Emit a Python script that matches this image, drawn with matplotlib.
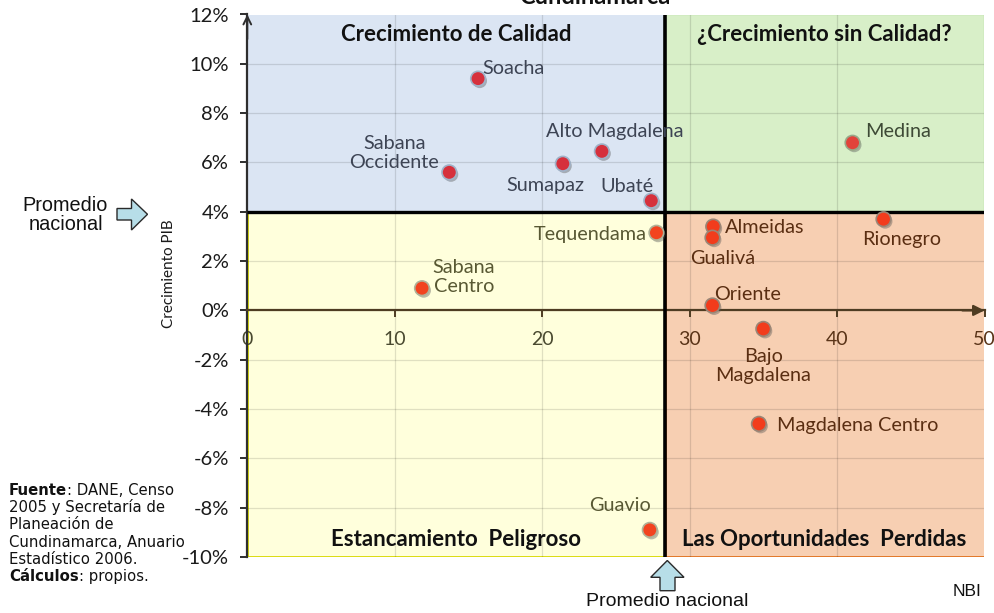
import matplotlib
matplotlib.use("Agg")
import matplotlib.pyplot as plt
from matplotlib.patches import Rectangle, Polygon
import matplotlib.patheffects as pe

# Provinces of Cundinamarca: unmet basic needs (NBI, %) vs. GDP growth (%)
regiones = ["Soacha", "Sabana\nOccidente", "Sumapaz", "Alto Magdalena", "Ubaté",
            "Tequendama", "Medina", "Almeidas", "Gualivá", "Rionegro", "Oriente",
            "Bajo\nMagdalena", "Magdalena Centro", "Guavio", "Sabana\nCentro"]
nbi = [15.65, 13.7, 21.4, 24.05, 27.4, 27.75, 41.05, 31.6, 31.55, 43.15, 31.55,
       35.0, 34.7, 27.3, 11.85]
pib = [9.4, 5.6, 5.95, 6.45, 4.45, 3.15, 6.8, 3.4, 2.95, 3.7, 0.2, -0.75, -4.6,
       -8.9, 0.9]

# National averages that split the four quadrants
nbi_nacional = 28.3
pib_nacional = 4.0

x_ticks = [0, 10, 20, 30, 40, 50]
y_ticks = list(range(-10, 13, 2))

cuadrantes = ["Crecimiento de Calidad", "¿Crecimiento sin Calidad?",
              "Estancamiento  Peligroso", "Las Oportunidades  Perdidas"]

# label placement for each province: offset in pixels, horizontal alignment
etiquetas = [(4, 10, "left"), (-55, 19, "center"), (-17, -22, "center"),
             (13, 20, "center"), (-24, 14, "center"), (-10, -2, "right"),
             (13, 11, "left"), (12, -1, "left"), (10, -21, "center"),
             (18, -20, "center"), (2, 11, "left"), (0, -37, "center"),
             (18, -2, "left"), (-30, 24, "center"), (42, 11, "center")]

CAL = ["Lato", "DejaVu Sans"]
ARIAL = ["Liberation Sans", "DejaVu Sans"]
PX = 72 / 100.0  # points per pixel at 100 dpi

W, H = 995, 613
fig = plt.figure(figsize=(W / 100, H / 100), dpi=100)
ax = fig.add_axes([247.3 / W, 1 - 557 / H, (984.5 - 247.3) / W, (557 - 14.5) / H])
ax.set_xlim(0, 50)
ax.set_ylim(-10, 12)
ax.patch.set_visible(False)


def fpx(x, y):
    """pixel position (from top-left) to figure fraction"""
    return (x / W, 1 - y / H)


# quadrant backgrounds
quad_style = {
    "azul": dict(fc="#dbe5f3", ec="#4f81bd", lw=1.2),
    "verde": dict(fc="#d8efc8", ec="#3aa83a", lw=1.5),
    "amarillo": dict(fc="#ffffdc", ec="#d8d800", lw=2.0),
    "naranja": dict(fc="#f7cfb2", ec="#e0701c", lw=2.0),
}
ax.add_patch(Rectangle((0, pib_nacional), nbi_nacional, 12 - pib_nacional,
                       zorder=0.5, **quad_style["azul"]))
ax.add_patch(Rectangle((nbi_nacional, pib_nacional), 50 - nbi_nacional, 12 - pib_nacional,
                       zorder=0.5, **quad_style["verde"]))
ax.add_patch(Rectangle((0, -10), nbi_nacional, pib_nacional + 10,
                       zorder=0.5, **quad_style["amarillo"]))
ax.add_patch(Rectangle((nbi_nacional, -10), 50 - nbi_nacional, pib_nacional + 10,
                       zorder=0.5, **quad_style["naranja"]))

# grid
for xv in x_ticks[1:-1]:
    ax.plot([xv, xv], [-10, 12], color="black", alpha=0.12, lw=0.9, zorder=1)
for yv in y_ticks[1:-1]:
    ax.plot([0, 50], [yv, yv], color="black", alpha=0.12, lw=0.9, zorder=1)

# national average dividers
ax.plot([nbi_nacional, nbi_nacional], [-10, 12], color="black", lw=2.6, zorder=4,
        solid_capstyle="butt")
ax.plot([0, 50], [pib_nacional, pib_nacional], color="black", lw=2.4, zorder=4,
        solid_capstyle="butt")

# axes through the origin
for s in ("top", "right"):
    ax.spines[s].set_visible(False)
ax.spines["left"].set_position(("data", 0))
ax.spines["bottom"].set_position(("data", 0))
ax.spines["left"].set_color("#2e2e2e")
ax.spines["bottom"].set_color("#4e3c22")
ax.spines["left"].set_linewidth(1.6)
ax.spines["bottom"].set_linewidth(1.6)
ax.spines["left"].set_zorder(3)
ax.spines["bottom"].set_zorder(3)

ax.set_xticks(x_ticks)
ax.set_xticklabels([str(v) for v in x_ticks])
ax.set_yticks(y_ticks)
ax.set_yticklabels([f"{v}%" for v in y_ticks])
ax.tick_params(axis="x", direction="out", length=5, width=1.4, color="#4e3c22",
               pad=10, labelsize=14)
ax.tick_params(axis="y", direction="out", length=5, width=1.4, color="#2e2e2e",
               pad=8, labelsize=14.5)
for lab in ax.get_xticklabels():
    lab.set_family(CAL)
for lab, v in zip(ax.get_xticklabels(), x_ticks):
    lab.set_color("#5a3418" if v > nbi_nacional else "#4a4a30")
for lab in ax.get_yticklabels():
    lab.set_family(CAL)
    lab.set_color("#1a1a1a")

ax.annotate("", xy=(50, 0), xytext=(48.5, 0), annotation_clip=False,
            arrowprops=dict(arrowstyle="-|>", color="#4e3c22", lw=1.6,
                            mutation_scale=16, shrinkA=0, shrinkB=0), zorder=3)
ax.annotate("", xy=(0, 12), xytext=(0, 11), annotation_clip=False,
            arrowprops=dict(arrowstyle="->", color="#2e2e2e", lw=1.4,
                            mutation_scale=14, shrinkA=0, shrinkB=0), zorder=3)

ax.set_ylabel("Crecimiento PIB", family=CAL, fontsize=11, color="#1a1a1a")
ax.yaxis.set_label_coords((176 - 247.3) / (984.5 - 247.3), (557 - 274) / (557 - 14.5))

# quadrant titles
qx = [nbi_nacional / 2, (nbi_nacional + 50) / 2]
for txt, x, y in zip(cuadrantes, [qx[0], qx[1], qx[0], qx[1]], [11.2, 11.2, -9.3, -9.3]):
    ax.text(x, y, txt, ha="center", va="center", family=CAL, fontweight="bold",
            fontsize=16, color="#111111", zorder=6)


def quad_of(x, y):
    if y >= pib_nacional:
        return "azul" if x < nbi_nacional else "verde"
    return "amarillo" if x < nbi_nacional else "naranja"


marker_face = {"azul": "#d6303c", "verde": "#e2433a", "amarillo": "#f2431f",
               "naranja": "#f23c1c"}
marker_edge = {"azul": "#9fb2c8", "verde": "#98a888", "amarillo": "#b0b298",
               "naranja": "#9a8676"}
text_color = {"azul": "#3d4454", "verde": "#3e4a36", "amarillo": "#585833",
              "naranja": "#5a2e12"}

for name, x, y, (dx, dy, ha) in zip(regiones, nbi, pib, etiquetas):
    q = quad_of(x, y)
    ax.plot([x], [y], marker="o", ms=10.5, mfc=marker_face[q], mec=marker_edge[q],
            mew=1.2, ls="none", zorder=7,
            path_effects=[pe.SimplePatchShadow(offset=(1.2, -1.6), shadow_rgbFace="#555555",
                                               alpha=0.4), pe.Normal()])
    ax.annotate(name, xy=(x, y), xytext=(dx * PX, dy * PX), textcoords="offset points",
                ha=ha, va="center", family=CAL, fontsize=14.3, color=text_color[q],
                multialignment="center", linespacing=1.15, zorder=8,
                annotation_clip=False)

# chart title, mostly above the canvas
fig.text(*fpx(595, 3.5), "Cundinamarca", ha="center", va="baseline", family=CAL,
         fontweight="bold", fontsize=17, color="#111111")

# block arrows marking the national averages
arrow_kw = dict(fc="#b7dee8", ec="#2a2a2a", lw=1.0, transform=fig.transFigure)
left_arrow = [(117, 208.5), (131.5, 208.5), (131.5, 199), (147.5, 214.3), (131.5, 230),
              (131.5, 220), (117, 220)]
fig.add_artist(Polygon([fpx(*p) for p in left_arrow], closed=True, **arrow_kw))
up_arrow = [(667.3, 560.5), (684, 577.3), (675, 577.3), (675, 590.7), (660, 590.7),
            (660, 577.3), (650.7, 577.3)]
fig.add_artist(Polygon([fpx(*p) for p in up_arrow], closed=True, **arrow_kw))

fig.text(*fpx(65.5, 215), "Promedio\nnacional", ha="center", va="center",
         family=ARIAL, fontsize=14.3, linespacing=1.0, color="#111111")
fig.text(*fpx(667, 601), "Promedio nacional", ha="center", va="center",
         family=ARIAL, fontsize=14, color="#111111")
fig.text(*fpx(967.5, 591), "NBI", ha="center", va="center", family=ARIAL,
         fontsize=12.5, color="#111111")

# source note
fuente = [("Fuente", ": DANE, Censo"), ("", "2005 y Secretaría de"),
          ("", "Planeación de"), ("", "Cundinamarca, Anuario"),
          ("", "Estadístico 2006."), ("Cálculos", ": propios.")]
base_y = 495
for i, (bold, rest) in enumerate(fuente):
    pos = fpx(9, base_y + i * 17.2)
    if bold:
        t = fig.text(*pos, bold, ha="left", va="baseline", family="DejaVu Sans",
                     fontweight="bold", fontsize=10.7, color="#111111")
        ax.annotate(rest, xy=(1, 0), xycoords=t, ha="left", va="bottom",
                    family="DejaVu Sans", fontsize=10.7, color="#111111",
                    annotation_clip=False)
    else:
        fig.text(*pos, rest, ha="left", va="baseline", family="DejaVu Sans",
                 fontsize=10.7, color="#111111")

fig.savefig("out.png", dpi=100)
